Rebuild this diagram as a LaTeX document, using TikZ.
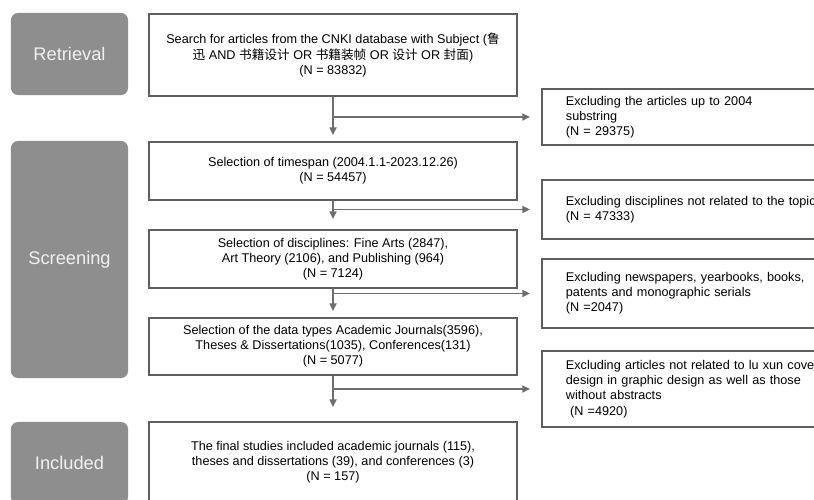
\documentclass[tikz,border=0pt]{standalone}
\usepackage{fontspec}
\setmainfont{Liberation Sans}
\newfontfamily\cjk{Noto Sans CJK SC}
\usetikzlibrary{arrows.meta}
\definecolor{stagegray}{HTML}{8E8E8E}
\definecolor{boxline}{HTML}{5E5E5E}
\definecolor{flowgray}{HTML}{6E6E6E}

\begin{document}
\begin{tikzpicture}[x=0.025cm, y=-0.025cm,
    stage/.style={fill=stagegray, rounded corners=5pt, text=white!94!black,
        minimum width=2.925cm, font=\fontsize{13}{15}\selectfont},
    mainbox/.style={draw=boxline, line width=1.3pt, fill=white, align=center,
        minimum width=9.2cm, font=\fontsize{9}{10.8}\selectfont},
    exclbox/.style={draw=boxline, line width=1.3pt, fill=white, anchor=west,
        align=left, text width=8cm, inner xsep=0.6cm, font=\fontsize{9}{10.8}\selectfont},
    flow/.style={draw=flowgray, line width=1.1pt, -{Triangle[width=5pt,length=5.5pt]}}]
    \useasboundingbox (0,0) rectangle (814,499);
    %\draw[lightgray] (0,0) grid[step=50] (814,499);

    % stages on the left
    \node[stage, minimum height=2.05cm] (retrieval) at (69.5,54) {Retrieval};
    \node[stage, minimum height=5.925cm] (screening) at (69.5,259.5) {Screening};
    \node[stage, minimum height=2.05cm] (included) at (69.5,463) {Included};

    % main column
    \node[mainbox, minimum height=2.05cm] (search) at (333,55)
        {Search for articles from the CNKI database with Subject ({\cjk 鲁}\\
         {\cjk 迅} AND {\cjk 书籍设计} OR {\cjk 书籍装帧} OR {\cjk 设计} OR {\cjk 封面})\\
         (N = 83832)};
    \node[mainbox, minimum height=1.45cm] (timespan) at (333,171)
        {Selection of timespan (2004.1.1-2023.12.26)\\ (N = 54457)};
    \node[mainbox, minimum height=1.45cm] (disciplines) at (333,259)
        {Selection of disciplines: Fine Arts (2847),\\
         Art Theory (2106), and Publishing (964)\\ (N = 7124)};
    \node[mainbox, minimum height=1.425cm] (datatypes) at (333,346.5)
        {Selection of the data types Academic Journals(3596),\\
         Theses \& Dissertations(1035), Conferences(131)\\ (N = 5077)};
    \node[mainbox, minimum height=2.025cm] (final) at (333,462.5)
        {The final studies included academic journals (115),\\
         theses and dissertations (39), and conferences (3)\\ (N = 157)};

    % exclusions on the right
    \node[exclbox, minimum height=1.4cm] (excl1) at (541,117)
        {Excluding the articles up to 2004\\ substring\\ (N = 29375)};
    \node[exclbox, minimum height=1.475cm] (excl2) at (541,209.5)
        {Excluding disciplines not related to the topic\\ (N = 47333)};
    \node[exclbox, minimum height=1.725cm] (excl3) at (541,293.5)
        {Excluding newspapers, yearbooks, books,\\ patents and monographic serials\\ (N =2047)};
    \node[exclbox, minimum height=1.9cm] (excl4) at (541,389)
        {Excluding articles not related to lu xun cover\\ design in graphic design as well as those\\
         without abstracts\\ \ (N =4920)};

    % arrows
    \draw[flow, shorten >=0.15cm] (search) -- (timespan);
    \draw[flow, shorten >=0.25cm] (timespan) -- (disciplines);
    \draw[flow, shorten >=0.15cm] (disciplines) -- (datatypes);
    \draw[flow, shorten >=0.35cm] (datatypes) -- (final);
    \draw[flow, shorten >=0.275cm] (search.south |- excl1.west) -- (excl1.west);
    \draw[flow, shorten >=0.275cm] (timespan.south |- excl2.west) -- (excl2.west);
    \draw[flow, shorten >=0.275cm] (disciplines.south |- excl3.west) -- (excl3.west);
    \draw[flow, shorten >=0.275cm] (datatypes.south |- excl4.west) -- (excl4.west);
\end{tikzpicture}
\end{document}
